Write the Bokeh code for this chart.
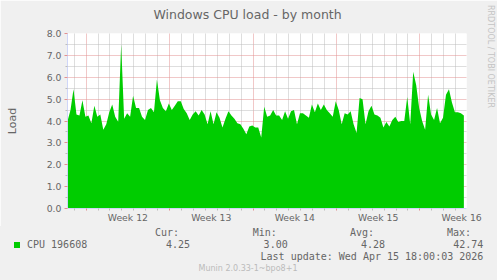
from bokeh.plotting import figure
from bokeh.models import (Range1d, FixedTicker, LinearAxis, Grid, Div, ColumnDataSource)
from bokeh.layouts import column
from bokeh.embed import file_html
from bokeh.resources import INLINE

# ---------------- data ----------------
title_text = "Windows CPU load - by month"
y_label = "Load"
series_name = "CPU 196608"
start_hour = -37.5          # hours relative to start of week 12
step_hours = 6
cpu_load = [
    4.0, 4.5, 5.45, 4.3, 4.25, 4.95, 4.2, 4.25, 3.9, 4.7,
    4.2, 4.3, 3.6, 3.85, 4.4, 4.75, 4.2, 3.97, 7.5, 4.1,
    4.35, 4.2, 5.15, 4.6, 4.6, 4.2, 4.05, 4.5, 4.6, 4.4,
    5.9, 4.95, 4.6, 4.45, 4.8, 4.5, 4.7, 4.9, 4.9, 4.55,
    4.35, 4.05, 4.3, 4.45, 4.25, 4.5, 4.3, 3.85, 4.45, 3.85,
    4.4, 4.15, 3.7, 4.1, 4.45, 4.25, 4.1, 3.9, 3.85, 3.65,
    3.4, 3.75, 3.8, 3.7, 3.7, 3.25, 4.65, 4.2, 4.25, 4.5,
    4.25, 4.25, 4.05, 4.45, 4.1, 4.45, 4.5, 3.85, 4.35, 4.35,
    4.25, 4.15, 4.75, 4.4, 4.8, 4.5, 4.75, 4.5, 4.35, 4.2,
    4.9, 4.5, 3.85, 4.35, 4.3, 4.45, 3.85, 3.45, 5.05, 5.0,
    3.85, 4.45, 4.7, 4.3, 4.25, 4.15, 3.7, 3.95, 3.75, 4.05,
    4.2, 3.95, 4.0, 4.0, 5.1, 3.85, 6.25, 5.65, 4.6, 4.0,
    3.6, 5.2, 4.3, 4.05, 4.6, 3.9, 4.15, 5.2, 5.45, 4.85,
    4.4, 4.4, 4.35, 4.25,
]
week_starts = [0, 168, 336, 504, 672]
week_label_pos = [84, 252, 420, 588, 756]
week_labels = ["Week 12", "Week 13", "Week 14", "Week 15", "Week 16"]
y_ticks = [0, 1, 2, 3, 4, 5, 6, 7, 8]
y_tick_labels = ["0.0", "1.0", "2.0", "3.0", "4.0", "5.0", "6.0", "7.0", "8.0"]
y_minor = [0.5, 1.5, 2.5, 3.5, 4.5, 5.5, 6.5, 7.5]
stat_names = ["Cur:", "Min:", "Avg:", "Max:"]
stat_values = [4.25, 3.00, 4.28, 42.74]
last_update = "Last update: Wed Apr 15 18:00:03 2026"
munin_version = "Munin 2.0.33-1~bpo8+1"
rrd_credit = "RRDTOOL / TOBI OETIKER"

# ---------------- style ----------------
BACK = "#F0F0F0"
FONT = "#666666"
AXIS = "#CFD6F8"
GRID = "#BDBDBD"
MGRID = "#E39090"
AREA = "#00CC00"
SANS = "DejaVu Sans"
MONO = "DejaVu Sans Mono"

W, H = 497, 280
FL, FT, FR, FB = 67, 33, 467, 208   # frame edges in canvas px
FIG_H = 226                          # figure height; legend block below
X0, X1 = -37.56, 765.8               # hours shown across the frame
Y0, Y1 = 0, 8

hours = [start_hour + step_hours * i for i in range(len(cpu_load))]
day_minor = [d for d in range(-24, 769, 24) if d % 168 != 0]

p = figure(width=W, height=FIG_H, output_backend="svg", toolbar_location=None,
           x_range=Range1d(X0, X1), y_range=Range1d(Y0, Y1),
           x_axis_type=None, y_axis_type=None,
           min_border_left=FL, min_border_right=W - FR,
           min_border_top=FT, min_border_bottom=FIG_H - FB,
           background_fill_color="white", border_fill_color=BACK,
           outline_line_color=None)
p.title = None

# grids
p.add_layout(Grid(dimension=0, ticker=FixedTicker(ticks=week_starts, minor_ticks=day_minor),
                  grid_line_color=MGRID, grid_line_dash="1 1", grid_line_width=1,
                  minor_grid_line_color=GRID, minor_grid_line_dash="1 1"))
p.add_layout(Grid(dimension=1, ticker=FixedTicker(ticks=y_ticks, minor_ticks=y_minor),
                  grid_line_color=MGRID, grid_line_dash="1 1", grid_line_width=1,
                  minor_grid_line_color=GRID, minor_grid_line_dash="1 1"))

src = ColumnDataSource(dict(x=hours, y=cpu_load))
p.varea(x="x", y1=0, y2="y", source=src, fill_color=AREA)

# x axis: tick marks
xa = LinearAxis(ticker=FixedTicker(ticks=week_starts, minor_ticks=day_minor),
                major_label_overrides={t: "" for t in week_starts},
                major_label_text_font_size="0px", major_label_standoff=0,
                axis_line_color=AXIS, major_tick_line_color=MGRID, minor_tick_line_color=GRID,
                major_tick_in=0, major_tick_out=2, minor_tick_in=0, minor_tick_out=2)
p.add_layout(xa, "below")
# x axis: week labels
xl = LinearAxis(ticker=FixedTicker(ticks=week_label_pos),
                major_label_overrides=dict(zip(week_label_pos, week_labels)),
                axis_line_color=None, major_tick_line_color=None, minor_tick_line_color=None,
                major_tick_in=0, major_tick_out=0, major_label_standoff=1,
                major_label_text_font=SANS, major_label_text_font_size="9.3px",
                major_label_text_color=FONT)
p.add_layout(xl, "below")
# y axis (with "Load" as its axis label)
ya = LinearAxis(ticker=FixedTicker(ticks=y_ticks, minor_ticks=y_minor),
                major_label_overrides=dict(zip(y_ticks, y_tick_labels)),
                axis_line_color=AXIS, major_tick_line_color=MGRID, minor_tick_line_color=GRID,
                major_tick_in=0, major_tick_out=3, minor_tick_in=0, minor_tick_out=2,
                major_label_standoff=3,
                major_label_text_font=SANS, major_label_text_font_size="9.3px",
                major_label_text_color=FONT,
                axis_label=y_label, axis_label_standoff=25,
                axis_label_text_font=SANS, axis_label_text_font_size="11px",
                axis_label_text_font_style="normal", axis_label_text_color=FONT)
p.add_layout(ya, "left")

# title: a label-only axis above the graph, centred at canvas x = 247.5
title_x = X0 + (247.5 - FL) * (X1 - X0) / (FR - FL)
ta = LinearAxis(ticker=FixedTicker(ticks=[title_x]),
                major_label_overrides={title_x: title_text},
                axis_line_color=None, major_tick_line_color=None, minor_tick_line_color=None,
                major_tick_in=0, major_tick_out=0, major_label_standoff=12,
                major_label_text_font=SANS, major_label_text_font_size="12.5px",
                major_label_text_color=FONT)
p.add_layout(ta, "above")

# credit: a label-only axis on the right, centred at canvas y = 56, reading downwards
credit_y = Y0 + (FB - 56) * (Y1 - Y0) / (FB - FT)
ra = LinearAxis(ticker=FixedTicker(ticks=[credit_y]),
                major_label_overrides={credit_y: rrd_credit},
                axis_line_color=None, major_tick_line_color=None, minor_tick_line_color=None,
                major_tick_in=0, major_tick_out=0, major_label_standoff=19,
                major_label_orientation="parallel",
                major_label_text_font=SANS, major_label_text_font_size="8px",
                major_label_text_color="#C4C4C4")
p.add_layout(ra, "right")

# ---------------- legend block (below the graph) ----------------
top0 = FIG_H


def span(text, size, font, color, top_cy, left=None, right=None, center=False):
    lh = round(size * 1.2)
    # put the cap centre of the text on top_cy (canvas px)
    top = top_cy - top0 - (lh - size * 1.164) / 2 - size * 0.928 + size * 0.729 / 2
    pos = f"top:{top:.2f}px;"
    if center:
        pos += f"left:0px;width:{2 * left:.1f}px;text-align:center;"
    elif right is not None:
        pos += f"right:{W - right:.2f}px;"
    else:
        pos += f"left:{left:.2f}px;"
    return (f'<span style="position:absolute;{pos}white-space:pre;font-family:\'{font}\';'
            f'font-size:{size}px;line-height:{lh}px;color:{color};">{text}</span>')


parts = []
parts.append(f'<span style="position:absolute;left:14px;top:{242 - top0}px;width:6px;height:6px;'
             f'background:{AREA};"></span>')
parts.append(span(series_name, 10, MONO, FONT, 245, left=27))
name_lefts = [155, 252.7, 350, 447]
value_rights = [190, 287.7, 385, 483.3]
for nm, xl_, v, xr in zip(stat_names, name_lefts, stat_values, value_rights):
    parts.append(span(nm, 10, MONO, FONT, 233, left=xl_))
    parts.append(span(f"{v:.2f}", 10, MONO, FONT, 245, right=xr))
parts.append(span(last_update, 10, MONO, FONT, 257.3, right=483.3))
parts.append(span(munin_version, 8, SANS, "#BBBBBB", 269.3, left=248, center=True))

html = (f'<div style="position:relative;width:{W}px;height:{H - FIG_H}px;'
        f'background:{BACK};overflow:hidden;">' + "".join(parts) + "</div>")
legend_div = Div(text=html, width=W, height=H - FIG_H, margin=0,
                 styles={"background-color": BACK})

layout = column(p, legend_div, spacing=0)
open("out.html", "w").write(file_html(layout, INLINE))
